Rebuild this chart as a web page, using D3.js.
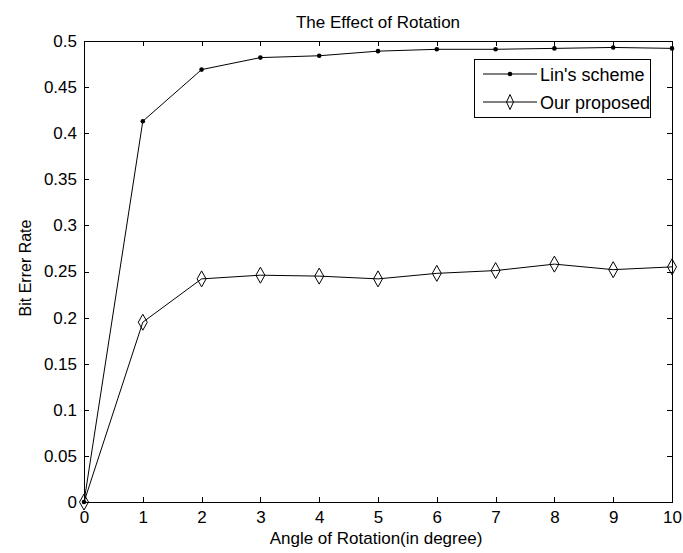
<!DOCTYPE html>
<html>
<head>
<meta charset="utf-8">
<script src="https://cdn.jsdelivr.net/npm/d3@7"></script>
<style>
  body { margin: 0; background: #fff; }
  text { font-family: "Liberation Sans", Arial, sans-serif; fill: #000; }
</style>
</head>
<body>
<div id="my_dataviz"></div>
<script>
// angle of rotation (degrees)
var angles = [0, 1, 2, 3, 4, 5, 6, 7, 8, 9, 10];
// bit error rate, Lin's scheme
var linScheme = [0, 0.413, 0.469, 0.482, 0.484, 0.489, 0.491, 0.491, 0.492, 0.493, 0.492];
// bit error rate, our proposed
var ourProposed = [0, 0.195, 0.242, 0.246, 0.245, 0.242, 0.248, 0.251, 0.258, 0.252, 0.255];
var xTicks = [0, 1, 2, 3, 4, 5, 6, 7, 8, 9, 10];
var yTicks = [0, 0.05, 0.1, 0.15, 0.2, 0.25, 0.3, 0.35, 0.4, 0.45, 0.5];
var seriesNames = ["Lin's scheme", "Our proposed"];

function draw_chart() {
    var width = 683;
    var height = 553;
    var left = 84, right = 672, top = 41, bottom = 502;

    var svg = d3.select("#my_dataviz").append("svg")
        .attr("width", width)
        .attr("height", height)
        .style("background-color", "white");

    var x = d3.scaleLinear().domain([0, 10]).range([left, right]);
    var y = d3.scaleLinear().domain([0, 0.5]).range([bottom, top]);

    // box
    svg.append("rect")
        .attr("x", left).attr("y", top)
        .attr("width", right - left).attr("height", bottom - top)
        .attr("fill", "none").attr("stroke", "#000").attr("stroke-width", 1)
        .attr("shape-rendering", "crispEdges");

    // axes, ticks pointing inward on all four sides
    var fmt = function(d) { return d3.format("~g")(d); };
    var gx = svg.append("g")
        .attr("transform", "translate(0," + bottom + ")")
        .call(d3.axisBottom(x).tickValues(xTicks).tickSizeInner(-5).tickSizeOuter(0).tickPadding(9).tickFormat(fmt));
    var gxTop = svg.append("g")
        .attr("transform", "translate(0," + top + ")")
        .call(d3.axisTop(x).tickValues(xTicks).tickSizeInner(-5).tickSizeOuter(0).tickFormat(""));
    var gy = svg.append("g")
        .attr("transform", "translate(" + left + ",0)")
        .call(d3.axisLeft(y).tickValues(yTicks).tickSizeInner(-5).tickSizeOuter(0).tickPadding(7).tickFormat(fmt));
    var gyRight = svg.append("g")
        .attr("transform", "translate(" + right + ",0)")
        .call(d3.axisRight(y).tickValues(yTicks).tickSizeInner(-5).tickSizeOuter(0).tickFormat(""));

    [gx, gxTop, gy, gyRight].forEach(function(g) {
        g.select(".domain").remove();
        g.selectAll("line").attr("stroke", "#000").attr("shape-rendering", "crispEdges");
        g.selectAll("text").style("font-size", "17px").style("font-family", "Liberation Sans, Arial, sans-serif").attr("fill", "#000");
    });

    // title and labels
    svg.append("text")
        .attr("x", (left + right) / 2).attr("y", 28)
        .attr("text-anchor", "middle")
        .style("font-size", "17px")
        .text("The Effect of Rotation");
    svg.append("text")
        .attr("x", 376).attr("y", 544)
        .attr("text-anchor", "middle")
        .style("font-size", "17px")
        .text("Angle of Rotation(in degree)");
    svg.append("text")
        .attr("transform", "translate(31,268) rotate(-90)")
        .attr("text-anchor", "middle")
        .style("font-size", "16px")
        .text("Bit Errer Rate");

    var line = d3.line()
        .x(function(d, i) { return x(angles[i]); })
        .y(function(d) { return y(d); });

    // Lin's scheme
    svg.append("path")
        .datum(linScheme)
        .attr("d", line)
        .attr("fill", "none").attr("stroke", "#000").attr("stroke-width", 1);
    svg.selectAll(".dot")
        .data(linScheme)
        .enter()
        .append("circle")
            .attr("class", "dot")
            .attr("cx", function(d, i) { return x(angles[i]); })
            .attr("cy", function(d) { return y(d); })
            .attr("r", 2.3)
            .attr("fill", "#000");

    // Our proposed
    var diamond = "M0,-8L4.5,0L0,8L-4.5,0Z";
    svg.append("path")
        .datum(ourProposed)
        .attr("d", line)
        .attr("fill", "none").attr("stroke", "#000").attr("stroke-width", 1);
    svg.selectAll(".diamond")
        .data(ourProposed)
        .enter()
        .append("path")
            .attr("class", "diamond")
            .attr("transform", function(d, i) { return "translate(" + x(angles[i]) + "," + y(d) + ")"; })
            .attr("d", diamond)
            .attr("fill", "none")
            .attr("stroke", "#000")
            .attr("stroke-width", 1);

    // legend
    var lx = 474, ly = 59, lw = 176, lh = 58;
    var legend = svg.append("g");
    legend.append("rect")
        .attr("x", lx).attr("y", ly).attr("width", lw).attr("height", lh)
        .attr("fill", "#fff").attr("stroke", "#000").attr("shape-rendering", "crispEdges");
    seriesNames.forEach(function(name, i) {
        var yy = ly + 15 + i * 28;
        legend.append("line")
            .attr("x1", lx + 9).attr("x2", lx + 63)
            .attr("y1", yy).attr("y2", yy)
            .attr("stroke", "#000");
        if (i === 0) {
            legend.append("circle").attr("cx", lx + 36).attr("cy", yy).attr("r", 2.3).attr("fill", "#000");
        } else {
            legend.append("path")
                .attr("transform", "translate(" + (lx + 36) + "," + yy + ")")
                .attr("d", "M0,-7.5L3.5,0L0,7.5L-3.5,0Z").attr("fill", "none").attr("stroke", "#000");
        }
        legend.append("text")
            .attr("x", lx + 66).attr("y", yy + 6.5)
            .style("font-size", "18px")
            .text(name);
    });
}

draw_chart();
</script>
</body>
</html>
